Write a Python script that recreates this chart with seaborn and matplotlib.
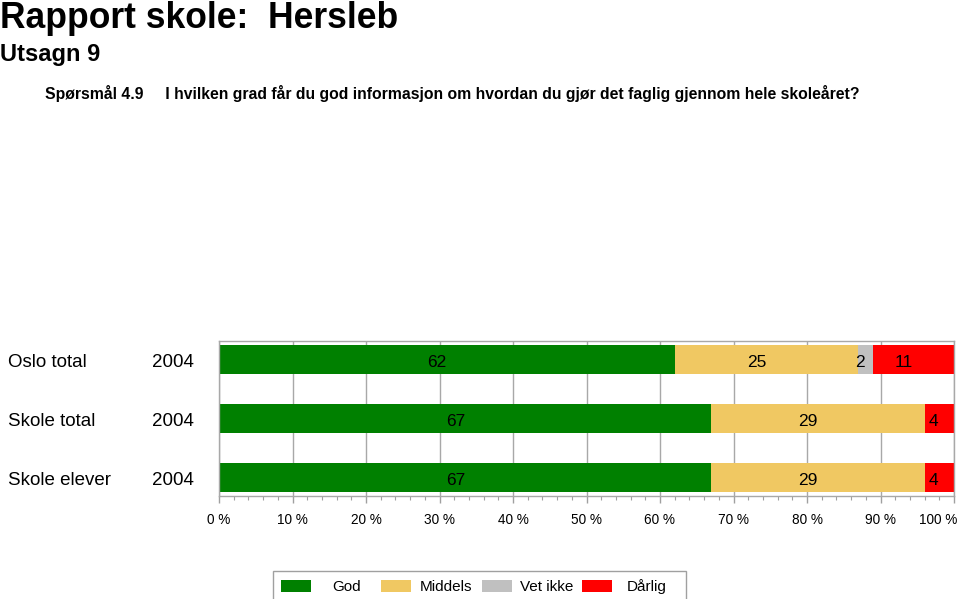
import matplotlib
matplotlib.use("Agg")
import matplotlib.pyplot as plt
import matplotlib.transforms as mtrans
import seaborn as sns
import pandas as pd
from matplotlib.patches import Rectangle
from matplotlib.ticker import MultipleLocator, FuncFormatter

sns.set_style("white")
plt.rcParams['font.family'] = ['Liberation Sans', 'DejaVu Sans']
plt.rcParams['text.color'] = 'black'
plt.rcParams['xtick.color'] = 'black'

groups = ["Oslo total", "Skole total", "Skole elever"]
years = ["2004", "2004", "2004"]
categories = ["God", "Middels", "Vet ikke", "Dårlig"]
god = [62, 67, 67]
middels = [25, 29, 29]
vet_ikke = [2, 0, 0]
darlig = [11, 4, 4]
colors = ["#008000", "#F0C862", "#C0C0C0", "#FF0000"]

series = [god, middels, vet_ikke, darlig]
df = pd.DataFrame({"group": groups})
for name, vals in zip(categories, series):
    df[name] = vals
cum = df[categories].cumsum(axis=1)

W, H = 960, 599
fig = plt.figure(figsize=(W/100, H/100), dpi=100)
ax = fig.add_axes([219/W, 1-496/H, (954-219)/W, (496-341)/H])

# stacked bars: draw cumulative totals from back to front
for name, col in reversed(list(zip(categories, colors))):
    sns.barplot(x=cum[name], y=df["group"], orient="h", color=col, width=0.49,
                ax=ax, saturation=1, zorder=2, linewidth=0)

# value labels
for i in range(len(groups)):
    left = 0
    for name in categories:
        v = df.loc[i, name]
        if v > 0:
            dx = -7 if v >= 10 else -4
            ax.annotate(f"{v}", xy=(left + v/2, i), xytext=(dx, -2), textcoords="offset points",
                        ha="center", va="center", fontsize=12.5, color="black", zorder=5)
        left += v

ax.set_xlim(0, 100)
ax.set_ylim(2.314, -0.314)
ax.xaxis.set_major_locator(MultipleLocator(10))
ax.xaxis.set_minor_locator(MultipleLocator(2))
ax.xaxis.set_major_formatter(FuncFormatter(lambda x, p: f"{int(x)} %"))
ax.grid(axis="x", which="major", color="#a8a8a8", linewidth=1, zorder=0)
ax.set_axisbelow(True)
ax.tick_params(axis="x", which="major", direction="out", length=5, width=1, color="#a0a0a0",
               labelsize=9.8, pad=7, bottom=True, labelcolor="black")
ax.tick_params(axis="x", which="minor", direction="out", length=3, width=0.8, color="#a0a0a0", bottom=True)
ax.set_yticks([])
ax.set_xlabel("")
ax.set_ylabel("")
for s in ax.spines.values():
    s.set_color("#a8a8a8")
    s.set_linewidth(1)

# shift the last tick label ("100 %") left so it stays inside the figure
fig.canvas.draw()
for lab in ax.get_xticklabels():
    if lab.get_text().startswith("100"):
        lab.set_transform(lab.get_transform() + mtrans.ScaledTranslation(-16/100, 0, fig.dpi_scale_trans))

# y labels (two columns)
trans = mtrans.blended_transform_factory(fig.transFigure, ax.transData)
off = mtrans.ScaledTranslation(0, -3/100, fig.dpi_scale_trans)
for i, (g, yv) in enumerate(zip(groups, years)):
    fig.text(8/W, i, g, transform=trans + off, fontsize=13.5, va="center", ha="left")
    fig.text(152/W, i, yv, transform=trans + off, fontsize=13.5, va="center", ha="left")

# titles
fig.text(0/W, 1-18/H, "Rapport skole:  Hersleb", fontsize=25.6, fontweight="bold", va="center", ha="left")
fig.text(0/W, 1-55/H, "Utsagn 9", fontsize=17, fontweight="bold", va="center", ha="left")
fig.text(45/W, 1-94/H,
         "Spørsmål 4.9     I hvilken grad får du god informasjon om hvordan du gjør det faglig gjennom hele skoleåret?",
         fontsize=11.3, fontweight="bold", va="center", ha="left")

# legend (fixed-width cells, text centred in each cell)
fig.add_artist(Rectangle((273/W, 1-610/H), (686-273)/W, (610-571)/H, transform=fig.transFigure,
                         facecolor="white", edgecolor="#a0a0a0", linewidth=1))
cell = 100.3
for k, (n, c) in enumerate(zip(categories, colors)):
    x0 = 281 + k*cell
    fig.add_artist(Rectangle((x0/W, 1-592/H), 30/W, 12/H, transform=fig.transFigure,
                             facecolor=c, edgecolor="none"))
    fig.text((x0 + 30 + (cell - 30)/2)/W, 1-587/H, n, fontsize=11, ha="center", va="center")

fig.savefig("out.png", dpi=100)
